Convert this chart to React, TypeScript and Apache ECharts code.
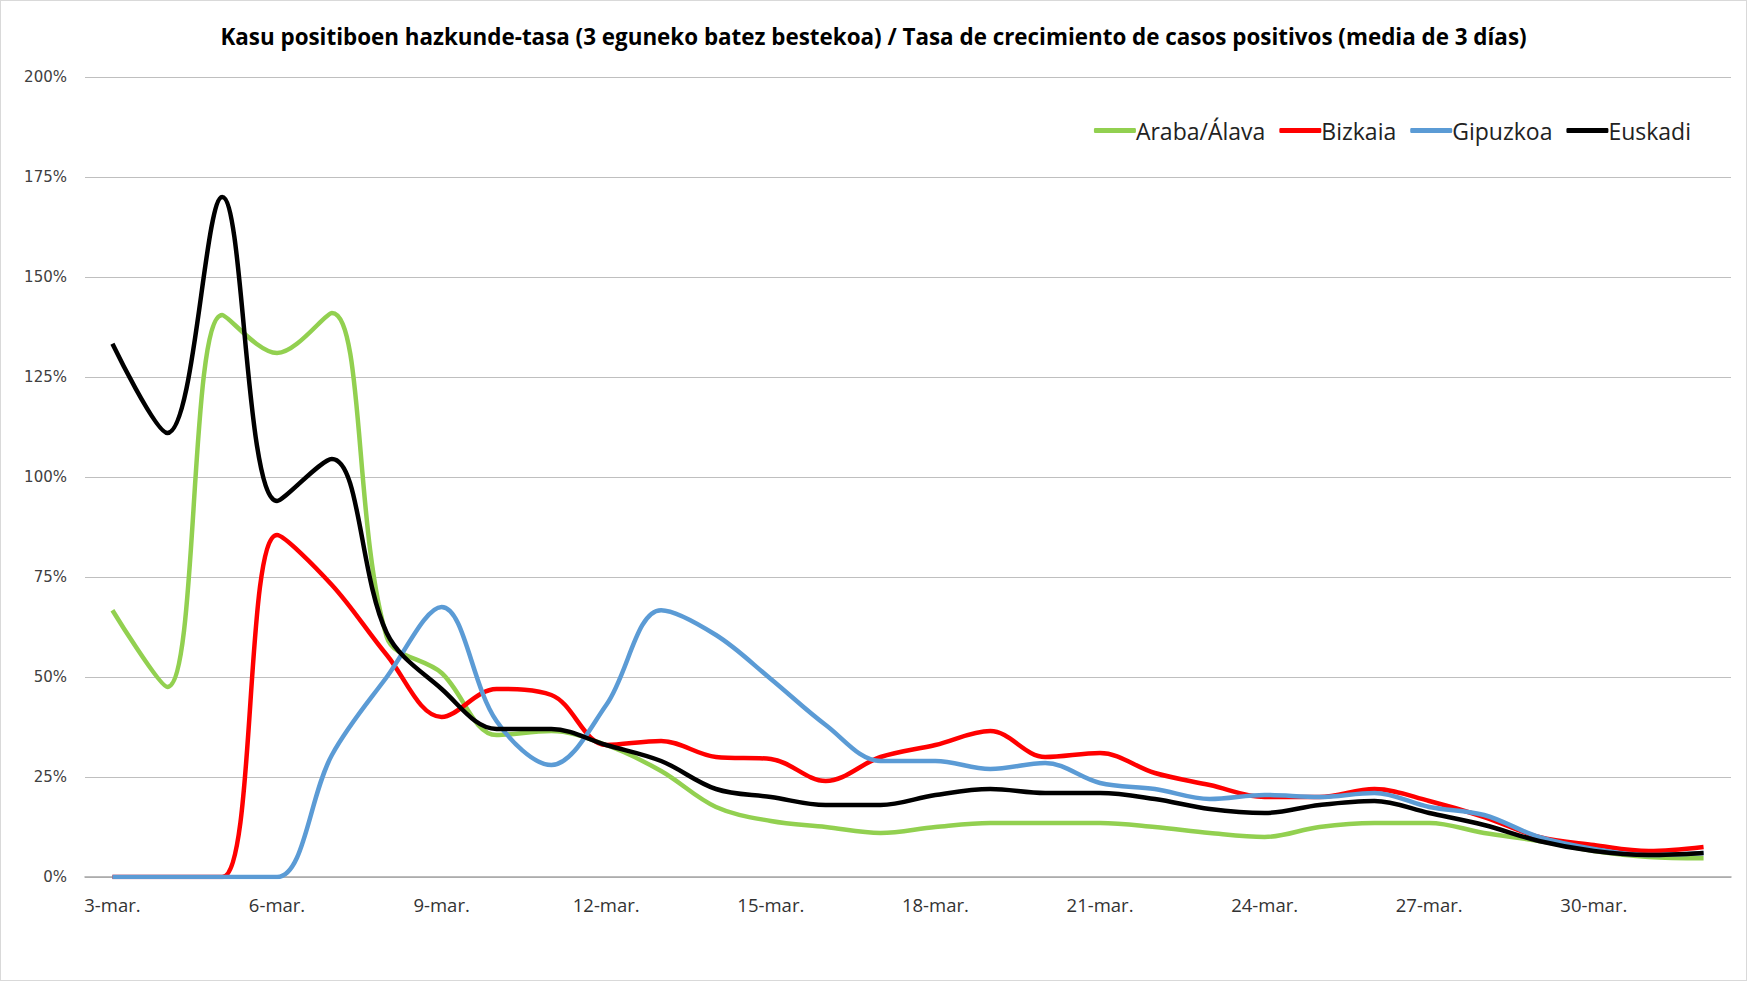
import React, { useEffect, useRef } from "react";
import * as echarts from "echarts";

const days = [
  "3-mar.", "4-mar.", "5-mar.", "6-mar.", "7-mar.", "8-mar.", "9-mar.", "10-mar.", "11-mar.", "12-mar.",
  "13-mar.", "14-mar.", "15-mar.", "16-mar.", "17-mar.", "18-mar.", "19-mar.", "20-mar.", "21-mar.", "22-mar.",
  "23-mar.", "24-mar.", "25-mar.", "26-mar.", "27-mar.", "28-mar.", "29-mar.", "30-mar.", "31-mar.", "1-abr.",
];

const araba = [66.7, 47.5, 140.5, 131, 141, 60, 51, 35.5, 36.5, 33, 26.5, 17.5, 14, 12.5, 11, 12.5, 13.5, 13.5, 13.5, 12.5, 11, 10, 12.5, 13.5, 13.5, 11, 9, 6.5, 5, 4.7];
const bizkaia = [0, 0, 0, 85.5, 73, 55.5, 40, 47, 45.5, 33, 34, 30, 29.5, 24, 30, 33, 36.5, 30, 31, 26, 23, 20, 20, 22, 19, 15, 10, 8, 6.5, 7.5];
const gipuzkoa = [0, 0, 0, 0, 30.5, 50, 67.5, 39, 28, 43, 66.7, 60.5, 49.5, 38, 29, 29, 27, 28.5, 23.5, 22, 19.5, 20.5, 20, 21, 17.5, 15.5, 10, 7, 5.5, 6];
const euskadi = [133.3, 111, 170, 94, 104.5, 61, 47, 37, 37, 33, 29, 22, 20, 18, 18, 20.5, 22, 21, 21, 19.5, 17, 16, 18, 19, 16, 13, 9, 6.5, 5.5, 6];

const yTicks = [0, 25, 50, 75, 100, 125, 150, 175, 200];

const FONT = "'Open Sans', 'Liberation Sans', sans-serif";

export default function App() {
  const ref = useRef<HTMLDivElement>(null);
  useEffect(() => {
    document.body.style.margin = "0";
    const chart = echarts.init(ref.current!, null, { renderer: "svg" });
    const mk = (name: string, data: number[], color: string) => ({
      name,
      type: "line",
      data,
      smooth: 0.35,
      symbol: "none",
      lineStyle: { color, width: 4.5 },
      itemStyle: { color },
    });
    chart.setOption({
      animation: false,
      backgroundColor: "#ffffff",
      title: {
        text: "Kasu positiboen hazkunde-tasa (3 eguneko batez bestekoa) / Tasa de crecimiento de casos positivos (media de 3 días)",
        left: "center",
        top: 19,
        padding: [5, 5, 5, 21],
        textStyle: { fontFamily: FONT, fontSize: 22.4, fontWeight: "bold", color: "#000000" },
      },
      legend: {
        right: 50,
        top: 113,
        itemWidth: 42,
        itemHeight: 5,
        itemGap: 14,
        icon: "roundRect",
        textStyle: { fontFamily: FONT, fontSize: 23, color: "#222222", padding: [0, 0, 0, -5] },
        data: ["Araba/Álava", "Bizkaia", "Gipuzkoa", "Euskadi"],
      },
      grid: { left: 84, right: 15, top: 76, bottom: 103, containLabel: false },
      xAxis: {
        type: "category",
        data: days,
        boundaryGap: true,
        axisLine: { lineStyle: { color: "#a6a6a6", width: 1.5 } },
        axisTick: { show: false },
        axisLabel: {
          interval: 2,
          fontFamily: FONT,
          fontSize: 18.5,
          color: "#333333",
          margin: 18,
        },
      },
      yAxis: {
        type: "value",
        min: 0,
        max: 200,
        interval: 25,
        axisLine: { show: false },
        axisTick: { show: false },
        axisLabel: {
          formatter: (v: number) => (yTicks.includes(v) ? v + "%" : ""),
          fontFamily: "'DejaVu Sans', sans-serif",
          fontSize: 15,
          color: "#404040",
          margin: 18,
        },
        splitLine: { lineStyle: { color: "#bfbfbf", width: 1 } },
      },
      series: [
        mk("Araba/Álava", araba, "#92D050"),
        mk("Bizkaia", bizkaia, "#FF0000"),
        mk("Gipuzkoa", gipuzkoa, "#5B9BD5"),
        mk("Euskadi", euskadi, "#000000"),
      ],
    });
    return () => chart.dispose();
  }, []);
  return (
    <div
      style={{
        position: "fixed",
        left: 0,
        top: 0,
        width: 1747,
        height: 981,
        boxSizing: "border-box",
        border: "1px solid #d9d9d9",
        background: "#fff",
      }}
    >
      <div ref={ref} style={{ width: 1745, height: 979 }} />
    </div>
  );
}
